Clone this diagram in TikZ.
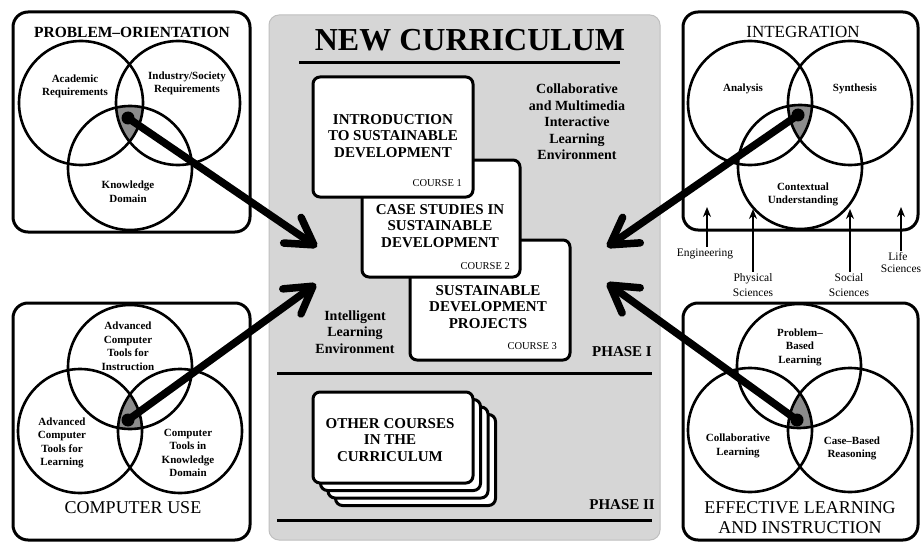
\documentclass[tikz,border=0pt]{standalone}
\usepackage{fontspec}
\setmainfont{Liberation Serif}
\usetikzlibrary{arrows.meta}
\begin{document}
\begin{tikzpicture}[x=1pt,y=-1pt,
 panel/.style={draw, line width=3pt, rounded corners=15pt},
 vcirc/.style={circle, draw, line width=2.6pt, minimum size=124pt, inner sep=0pt},
 vtxt/.style={font=\fontsize{11}{13.5}\selectfont\bfseries, align=center, inner sep=0pt},
 ptitleB/.style={font=\fontsize{15.5}{18}\selectfont\bfseries, align=center, inner sep=0pt},
 ptitleR/.style={font=\fontsize{18}{19.5}\selectfont, align=center, inner sep=0pt},
 course/.style={draw, line width=3pt, rounded corners=7pt, fill=white},
 ctxt/.style={font=\fontsize{15}{16.5}\selectfont\bfseries, align=center, inner sep=0pt},
 cnum/.style={font=\fontsize{10.5}{12}\selectfont, anchor=east, inner sep=0pt},
 env/.style={font=\fontsize{14}{16.5}\selectfont\bfseries, align=center, inner sep=0pt},
 phase/.style={font=\fontsize{15}{16}\selectfont\bfseries, anchor=east, inner sep=0pt},
 bigarrow/.style={line width=7.5pt, -{Straight Barb[length=26pt,width=31pt,round]}},
 uparrow/.style={line width=1.8pt, -{Stealth[length=10pt,width=8pt]}},
 disc/.style={font=\fontsize{11.5}{15}\selectfont, align=center, inner sep=0pt},
 blob/.style={circle, fill=black, minimum size=13pt, inner sep=0pt},
 isect/.style={fill=black!45},
 rule/.style={line width=3pt},
]
\useasboundingbox (0,0) rectangle (922,543);

% ---------------- central panel ----------------
\node[draw=black!25, fill=black!16, line width=1pt, rounded corners=10pt,
      minimum width=391pt, minimum height=525pt, inner sep=0pt] (cp) at (464.5,277.5) {};
\node[font=\fontsize{32}{34}\selectfont\bfseries, inner sep=0pt] (ttl) at (470,40) {NEW CURRICULUM};
\coordinate (r1a) at (299,63); \coordinate (r1b) at (620,63);
\draw[rule] (r1a) -- (r1b);

% course boxes (3 under 2 under 1)
\node[course, minimum width=160pt, minimum height=120pt] (c3) at (490,300) {};
\node[course, minimum width=158pt, minimum height=117pt] (c2) at (441,218.5) {};
\node[course, minimum width=160pt, minimum height=120pt] (c1) at (393,137) {};
\node[ctxt] (c1t) at (393,136) {INTRODUCTION\\TO SUSTAINABLE\\DEVELOPMENT};
\node[cnum] (c1n) at (462,183) {COURSE 1};
\node[ctxt] (c2t) at (440,226) {CASE STUDIES IN\\SUSTAINABLE\\DEVELOPMENT};
\node[cnum] (c2n) at (510,266) {COURSE 2};
\node[ctxt] (c3t) at (488,307) {SUSTAINABLE\\DEVELOPMENT\\PROJECTS};
\node[cnum] (c3n) at (557,346) {COURSE 3};

\node[env] (collab) at (577,122) {Collaborative\\and Multimedia\\Interactive\\Learning\\Environment};
\node[env] (intel) at (355,332) {Intelligent\\Learning\\Environment};
\node[phase] (ph1) at (652,352) {PHASE I};
\coordinate (r2a) at (277,373); \coordinate (r2b) at (652,373);
\draw[rule] (r2a) -- (r2b);

% other courses stack
\foreach \k in {3,2,1} {
  \node[course, minimum width=160pt, minimum height=91pt] (oc\k) at (393+7.5*\k,437.5+7.5*\k) {};
}
\node[course, minimum width=160pt, minimum height=91pt] (oc0) at (393,437.5) {};
\node[ctxt] (oct) at (390,440) {OTHER COURSES\\IN THE\\CURRICULUM};
\node[phase] (ph2) at (655,505) {PHASE II};
\coordinate (r3a) at (277,520); \coordinate (r3b) at (652,520);
\draw[rule] (r3a) -- (r3b);

% ---------------- top-left: problem orientation ----------------
\node[panel, minimum width=237pt, minimum height=220pt, inner sep=0pt] (ptl) at (131.5,122) {};
\begin{scope}
 \clip (81,103) circle[radius=62];
 \clip (178,103) circle[radius=62];
 \fill[isect] (130,168) circle[radius=62];
\end{scope}
\node[vcirc] (pa) at (81,103) {};
\node[vcirc] (pb) at (178,103) {};
\node[vcirc] (pc) at (130,168) {};
\node[ptitleB] (ptlt) at (132,32) {PROBLEM--ORIENTATION};
\node[vtxt] (pat) at (75,86.5) {Academic\\Requirements};
\node[vtxt] (pbt) at (187,83.5) {Industry/Society\\Requirements};
\node[vtxt] (pct) at (128,191.5) {Knowledge\\Domain};

% ---------------- top-right: integration ----------------
\node[panel, minimum width=235pt, minimum height=218pt, inner sep=0pt] (ptr) at (800.5,121) {};
\begin{scope}
 \clip (750,103) circle[radius=62];
 \clip (850,103) circle[radius=62];
 \fill[isect] (800,167) circle[radius=62];
\end{scope}
\node[vcirc] (ia) at (750,103) {};
\node[vcirc] (ib) at (850,103) {};
\node[vcirc] (ic) at (800,167) {};
\node[font=\fontsize{17}{19}\selectfont, inner sep=0pt] (ptrt) at (803,32) {INTEGRATION};
\node[vtxt] (iat) at (743,89) {Analysis};
\node[vtxt] (ibt) at (855,89) {Synthesis};
\node[vtxt] (ict) at (803,194.5) {Contextual\\Understanding};

\node[disc] (eng) at (705,254) {Engineering};
\node[disc] (phy) at (753,285.5) {Physical\\Sciences};
\node[disc] (soc) at (849,285.5) {Social\\Sciences};
\node[disc] (lifa) at (898,257) {Life};
\node[disc] (lifb) at (901,269) {Sciences};
\coordinate (engtip) at (707,207);
\coordinate (phytip) at (753,209);
\coordinate (soctip) at (850,209);
\coordinate (liftip) at (901,207);
\draw[uparrow] (engtip |- eng.north) ++(0,-2) -- (engtip);
\draw[uparrow] (phytip |- phy.north) ++(0,-2) -- (phytip);
\draw[uparrow] (soctip |- soc.north) ++(0,-2) -- (soctip);
\draw[uparrow] (liftip |- lifa.north) ++(0,-2) -- (liftip);

% ---------------- bottom-left: computer use ----------------
\node[panel, minimum width=237pt, minimum height=237pt, inner sep=0pt] (pbl) at (131.5,421.5) {};
\begin{scope}
 \clip (130,367) circle[radius=62];
 \clip (80,431) circle[radius=62];
 \fill[isect] (180,431) circle[radius=62];
\end{scope}
\node[vcirc] (ua) at (130,367) {};
\node[vcirc] (ub) at (80,431) {};
\node[vcirc] (uc) at (180,431) {};
\node[vtxt] (uat) at (128,346) {Advanced\\Computer\\Tools for\\Instruction};
\node[vtxt] (ubt) at (62,443) {Advanced\\Computer\\Tools for\\Learning};
\node[vtxt] (uct) at (188,453) {Computer\\Tools in\\Knowledge\\Domain};
\node[ptitleR] (pblt) at (133,508) {COMPUTER USE};

% ---------------- bottom-right: effective learning ----------------
\node[panel, minimum width=235pt, minimum height=237pt, inner sep=0pt] (pbr) at (800.5,421.5) {};
\begin{scope}
 \clip (799,366) circle[radius=62];
 \clip (750,430) circle[radius=62];
 \fill[isect] (850,430) circle[radius=62];
\end{scope}
\node[vcirc] (ea) at (799,366) {};
\node[vcirc] (eb) at (750,430) {};
\node[vcirc] (ec) at (850,430) {};
\node[vtxt] (eat) at (800,347) {Problem--\\Based\\Learning};
\node[vtxt] (ebt) at (738,446) {Collaborative\\Learning};
\node[vtxt] (ect) at (852,448.5) {Case--Based\\Reasoning};
\node[ptitleR] (pbrt) at (800,517.5) {EFFECTIVE LEARNING\\AND INSTRUCTION};

% ---------------- big arrows ----------------
\node[blob] (s1) at (128,118) {};
\node[blob] (s2) at (798,115) {};
\node[blob] (s3) at (128,420) {};
\node[blob] (s4) at (797,420) {};
\coordinate (t1) at (317,247);
\coordinate (t2) at (607,247);
\coordinate (t3) at (316,284);
\coordinate (t4) at (607,283);
\draw[bigarrow] (s1.center) -- (t1);
\draw[bigarrow] (s2.center) -- (t2);
\draw[bigarrow] (s3.center) -- (t3);
\draw[bigarrow] (s4.center) -- (t4);
\end{tikzpicture}
\end{document}
